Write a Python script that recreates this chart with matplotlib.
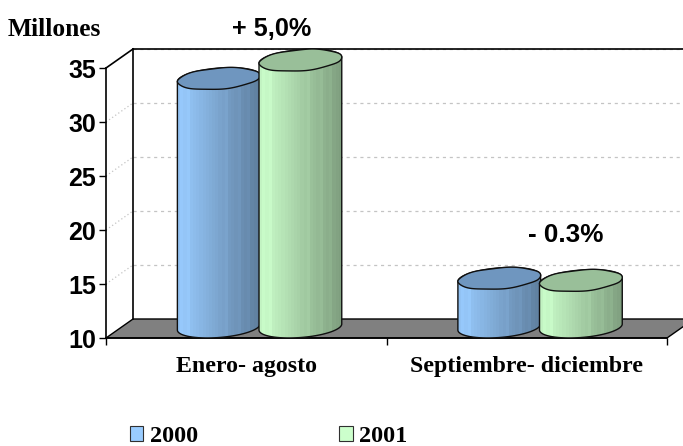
import numpy as np
import matplotlib
matplotlib.use('Agg')
import matplotlib.pyplot as plt
from matplotlib.patches import Patch, PathPatch, Polygon
from matplotlib.path import Path
from matplotlib.colors import LinearSegmentedColormap

categories = ['Enero- agosto', 'Septiembre- diciembre']
years = ['2000', '2001']
values_2000 = [33.0, 14.5]
values_2001 = [34.7, 14.3]
y_ticks = [10, 15, 20, 25, 30, 35]

SERIF = 'Liberation Serif'
SANS = 'Liberation Sans'

# axes run above 35 so the cylinder tops are not cut off, the spine stops at 35
YTOP = 37.5
fig = plt.figure(figsize=(6.83, 4.46), dpi=100)
ax = fig.add_axes([106 / 683, 108 / 446, 561 / 683, (YTOP - 10) * 10.8 / 446])
ax.set_xlim(-0.5, 1.5)
ax.set_ylim(10, YTOP)

# size of one pixel in data units, used for the fake 3d depth
px_x = 2.0 / 561
px_y = 1 / 10.8
depth_x = 27 * px_x
depth_y = 19 * px_y

# back wall, floor and side wall
xmax = 1.5 + 0.2
grid_kw = dict(color='#c4c4c4', lw=0.9, clip_on=False, zorder=1)
for v in y_ticks[1:]:
    ax.plot([-0.5 + depth_x, xmax], [v + depth_y, v + depth_y], ls=(0, (2.5, 3)), **grid_kw)
    if v < 35:
        ax.plot([-0.5, -0.5 + depth_x], [v, v + depth_y], ls=(0, (1, 2)), **grid_kw)

floor = Polygon([(-0.5, 10), (-0.5 + depth_x, 10 + depth_y), (xmax, 10 + depth_y), (1.5 + depth_x, 10 + depth_y), (1.5, 10)],
                closed=True, fc='#808080', ec='black', lw=1, clip_on=False, zorder=2)
ax.add_patch(floor)
line_kw = dict(color='black', lw=1.2, clip_on=False, zorder=2)
ax.plot([-0.5 + depth_x, -0.5 + depth_x], [10 + depth_y, 35 + depth_y], **line_kw)
ax.plot([-0.5 + depth_x, xmax], [35 + depth_y, 35 + depth_y], **line_kw)
ax.plot([-0.5, -0.5 + depth_x], [35, 35 + depth_y], **line_kw)


def ellipse_xy(cx, cy, t, wobble=0.0):
    # tilted ellipse, sizes in pixels so the shape stays the same
    a, b, tilt = 41.5, 10.5, np.radians(4.5)
    ex = a * np.cos(t)
    ey = b * np.sin(t) + wobble * np.sin(6 * t + 0.5)
    return (cx + (ex * np.cos(tilt) - ey * np.sin(tilt)) * px_x,
            cy + (ex * np.sin(tilt) + ey * np.cos(tilt)) * px_y)


def cylinder(cx, value, light, dark, top_color, z):
    base_y = 10 + 11 * px_y
    top_y = value + 11 * px_y
    bx, by = ellipse_xy(cx, base_y, np.linspace(np.pi, 2 * np.pi, 60))
    tx, ty = ellipse_xy(cx, top_y, np.linspace(0, np.pi, 60))
    body = np.column_stack([np.r_[bx, tx], np.r_[by, ty]])
    cmap = LinearSegmentedColormap.from_list('c', [light, dark])
    bands = np.linspace(0, 1, 26)
    bands[0] = 0.12
    bands[[3, 15, 19, 22]] -= 0.07
    left, right = body[:, 0].min(), body[:, 0].max()
    im = ax.imshow(bands[np.newaxis, :], cmap=cmap, vmin=0, vmax=1, aspect='auto',
                   extent=[left, right, 10, YTOP], interpolation='nearest', zorder=z)
    clip = PathPatch(Path(np.vstack([body, body[0]])), transform=ax.transData)
    im.set_clip_path(clip)
    ax.add_patch(Polygon(body, closed=True, fc='none', ec='#101010', lw=1, zorder=z, clip_on=False))
    ex, ey = ellipse_xy(cx, top_y, np.linspace(0, 2 * np.pi, 160), wobble=0.3)
    ax.add_patch(Polygon(np.column_stack([ex, ey]), closed=True, fc=top_color, ec='#101010', lw=1, zorder=z, clip_on=False))


offsets = [-0.098, 0.193]
styles = [('#99CCFF', '#5F7F9F', '#6F96BF'), ('#CCFFCC', '#7F9F7F', '#99BF99')]
z = 3
for i in range(len(categories)):
    for off, vals, st in zip(offsets, [values_2000, values_2001], styles):
        cylinder(i + off, vals[i], st[0], st[1], st[2], z)
        z += 1

ax.set_xlim(-0.5, 1.5)
ax.set_ylim(10, YTOP)

for s in ['top', 'right']:
    ax.spines[s].set_visible(False)
for s in ['left', 'bottom']:
    ax.spines[s].set_linewidth(1.2)
    ax.spines[s].set_zorder(2.5)
ax.spines['left'].set_bounds(10, 35)
ax.patch.set_visible(False)

ax.set_yticks(y_ticks)
ax.set_yticklabels([str(v) for v in y_ticks], fontname=SANS, fontweight='bold', fontsize=18)
ax.set_xticks([-0.5, 0.5, 1.5])
ax.set_xticklabels([])
ax.set_xticks([0, 1], minor=True)
ax.set_xticklabels(categories, minor=True, fontname=SERIF, fontweight='bold', fontsize=17.2)
ax.tick_params(axis='x', which='minor', length=0, pad=13)
ax.tick_params(axis='x', which='major', length=5, width=1)
ax.tick_params(axis='y', length=5, width=1, pad=2)

fig.text(8 / 683, 1 - 29 / 446, 'Millones', fontname=SERIF, fontweight='bold', fontsize=18.4, va='center')
fig.text(272 / 683, 1 - 29 / 446, '+ 5,0%', fontname=SANS, fontweight='bold', fontsize=18.2, ha='center', va='center')
fig.text(566 / 683, 1 - 235 / 446, '- 0.3%', fontname=SANS, fontweight='bold', fontsize=18.8, ha='center', va='center')

handles = [Patch(fc=st[0], ec='#303030', lw=0.8) for st in styles]
fig.legend(handles, years, ncol=2, frameon=False, loc='lower left', bbox_to_anchor=(108 / 683, -23 / 446),
           prop={'family': SERIF, 'weight': 'bold', 'size': 17.5},
           handlelength=0.55, handleheight=0.55, handletextpad=0.28, columnspacing=5.8)

fig.savefig('out.png', dpi=100)
